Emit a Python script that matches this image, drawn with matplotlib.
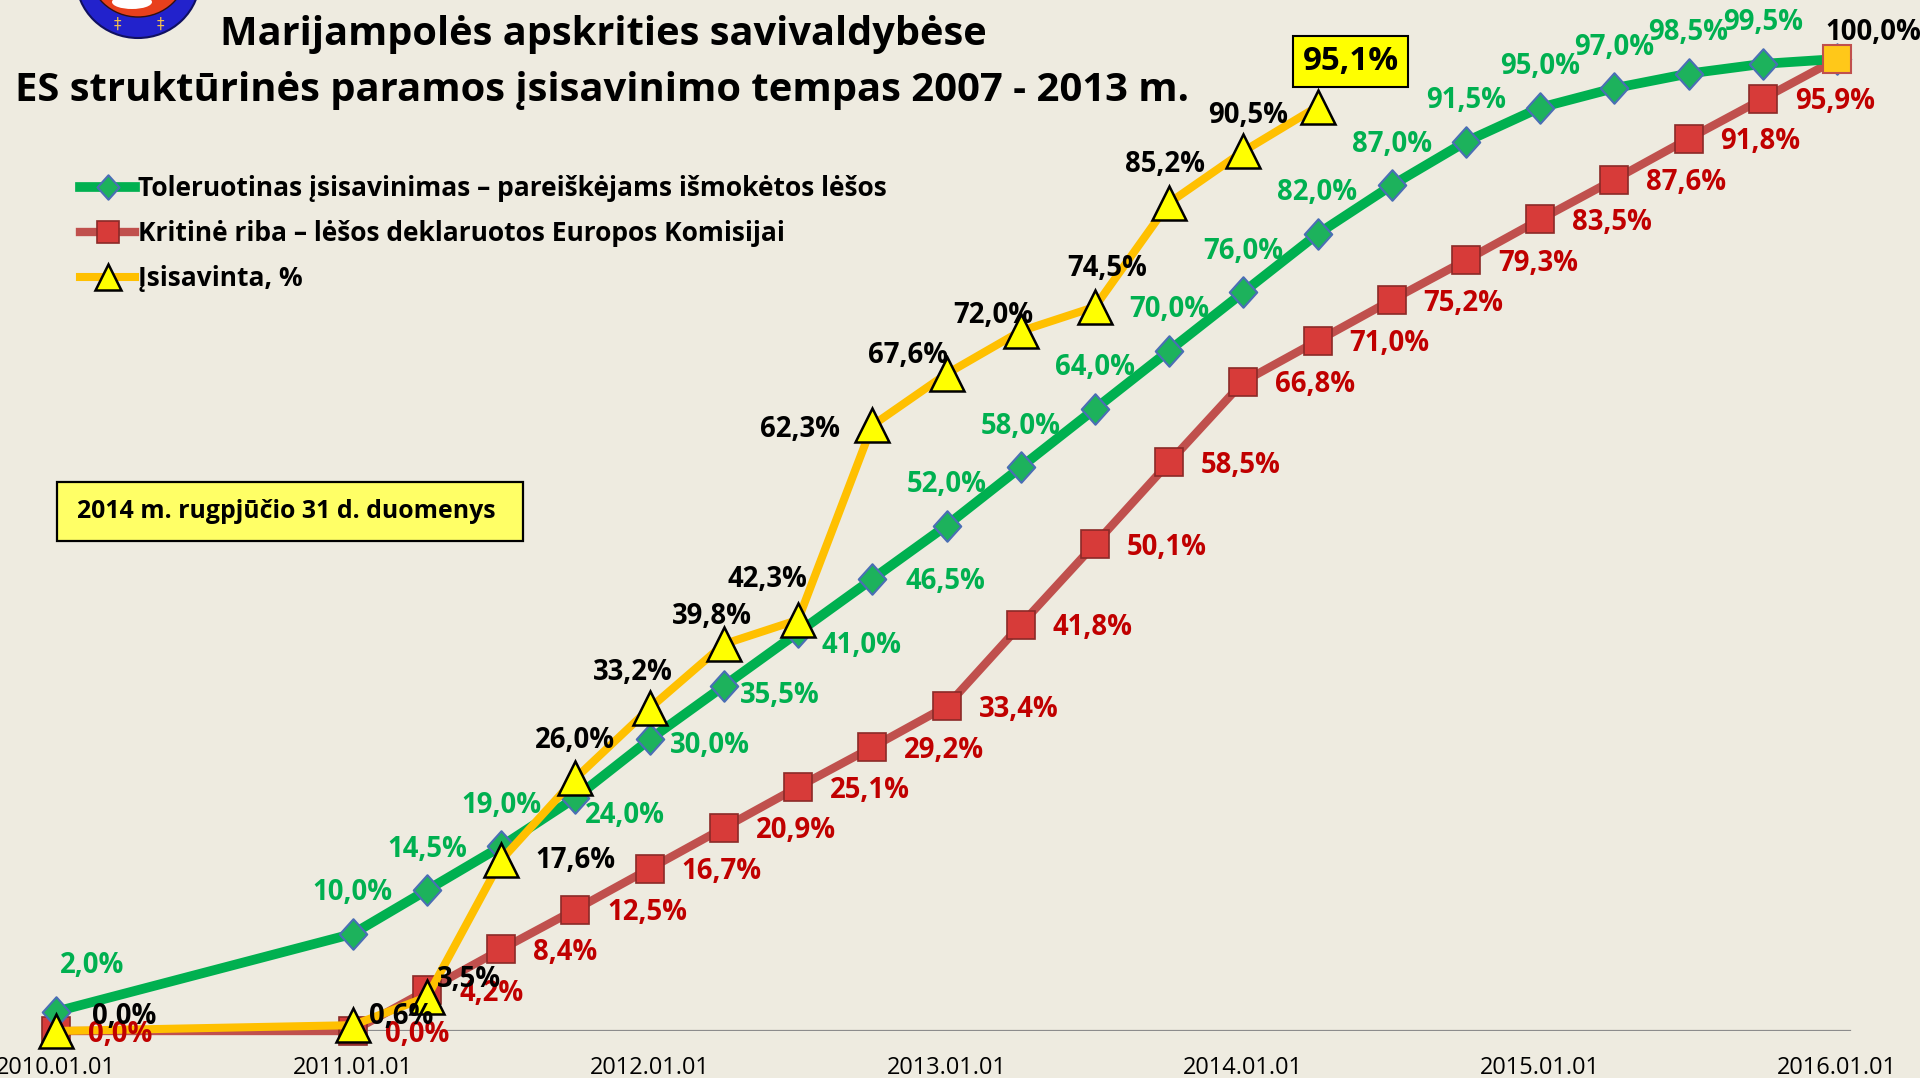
import matplotlib
matplotlib.use('Agg')
import matplotlib.pyplot as plt
from matplotlib.path import Path
from matplotlib.patches import Ellipse, Rectangle

FONT = ['Open Sans', 'DejaVu Sans']
plt.rcParams['font.family'] = FONT

# ---------------- data ----------------
green_dates = ['2010.01.01', '2011.01.01', '2011.04.01', '2011.07.01', '2011.10.01',
               '2012.01.01', '2012.04.01', '2012.07.01', '2012.10.01', '2013.01.01',
               '2013.04.01', '2013.07.01', '2013.10.01', '2014.01.01', '2014.04.01',
               '2014.07.01', '2014.10.01', '2015.01.01', '2015.04.01', '2015.07.01',
               '2015.10.01', '2016.01.01']
green_values = [2.0, 10.0, 14.5, 19.0, 24.0, 30.0, 35.5, 41.0, 46.5, 52.0, 58.0,
                64.0, 70.0, 76.0, 82.0, 87.0, 91.5, 95.0, 97.0, 98.5, 99.5, 100.0]
red_dates = list(green_dates)
red_values = [0.0, 0.0, 4.2, 8.4, 12.5, 16.7, 20.9, 25.1, 29.2, 33.4, 41.8,
              50.1, 58.5, 66.8, 71.0, 75.2, 79.3, 83.5, 87.6, 91.8, 95.9, 100.0]
yellow_dates = green_dates[:15]
yellow_values = [0.0, 0.6, 3.5, 17.6, 26.0, 33.2, 39.8, 42.3, 62.3, 67.6, 72.0,
                 74.5, 85.2, 90.5, 95.1]
tick_labels = ['2010.01.01', '2011.01.01', '2012.01.01', '2013.01.01',
               '2014.01.01', '2015.01.01', '2016.01.01']
series_names = ['Toleruotinas įsisavinimas – pareiškėjams išmokėtos lėšos',
                'Kritinė riba – lėšos deklaruotos Europos Komisijai',
                'Įsisavinta, %']
title_lines = ['Marijampolės apskrities savivaldybėse',
               'ES struktūrinės paramos įsisavinimo tempas 2007 - 2013 m.']
note_text = '2014 m. rugpjūčio 31 d. duomenys'


def to_year(s):
    y, m, d = s.split('.')
    return int(y) + (int(m) - 1) / 12.0


def fmt(v):
    return ('%.1f%%' % v).replace('.', ',')


gx = [to_year(d) for d in green_dates]
rx = [to_year(d) for d in red_dates]
yx = [to_year(d) for d in yellow_dates]

# ---------------- style ----------------
BG = '#EEEBE0'
W, H = 1920, 1078
GREEN = '#00B050'
GREEN_LBL = '#00B050'
RED_LINE = '#C0504D'
RED_LBL = '#C00000'
YEL_LINE = '#FFC000'

fig = plt.figure(figsize=(W / 100, H / 100), dpi=100, facecolor=BG)
renderer = fig.canvas.get_renderer()


def fit(text, width_px, weight='bold', base=20.0):
    t = fig.text(0, 0, text, fontsize=base, fontweight=weight)
    w = t.get_window_extent(renderer).width
    t.remove()
    return base * width_px / w


X0_PX, X6_PX = 56, 1837          # pixel x of 2010.01.01 and 2016.01.01
BASE_PX, TOP_PX = 1031, 59       # pixel y of 0 % and 100 %
PXY = (X6_PX - X0_PX) / 6.0
PPC = (BASE_PX - TOP_PX) / 100.0

ax = fig.add_axes([0, (H - BASE_PX) / H, 1, BASE_PX / H])
ax.set_facecolor(BG)
ax.patch.set_alpha(0)
ax.set_xlim(2010 - X0_PX / PXY, 2010 + (W - X0_PX) / PXY)
ax.set_ylim(0, BASE_PX / PPC)
for s in ax.spines.values():
    s.set_visible(False)
ax.set_yticks([])

fs_tick = fit('2015.01.01', 120, weight='normal')
ax.set_xticks([to_year(t) for t in tick_labels])
ax.set_xticklabels(tick_labels, fontsize=fs_tick, color='black')
ax.tick_params(axis='x', length=0, pad=18)

ax.axhline(0, xmin=49 / W, xmax=1850 / W, color='#8C8C8C', lw=1.6, zorder=1)

diamond = Path([(0, 1), (0.9, 0), (0, -1), (-0.9, 0), (0, 1)],
               [Path.MOVETO, Path.LINETO, Path.LINETO, Path.LINETO, Path.CLOSEPOLY])

lr, = ax.plot(rx, red_values, color=RED_LINE, lw=6, marker='s', ms=20.5,
              mfc='#D73B39', mec='#8B2A28', mew=1.2, zorder=3, label=series_names[1],
              clip_on=False)
# final red point shown in gold
ax.plot(rx[-1:], red_values[-1:], ls='none', marker='s', ms=20.5, mfc='#FFC819',
        mec='#C0504D', mew=1.5, zorder=6, clip_on=False)
lg, = ax.plot(gx, green_values, color=GREEN, lw=7, marker=diamond, ms=22,
              mfc='#1DB25C', mec='#4A6EB5', mew=1.5, zorder=4, label=series_names[0],
              clip_on=False)
ly, = ax.plot(yx, yellow_values, color=YEL_LINE, lw=5.8, marker='^', ms=24,
              mfc='#FFFF00', mec='black', mew=1.8, zorder=5, label=series_names[2],
              clip_on=False)

fs_lbl = fit('58,0%', 80)

# green labels (offset in pixels)
g_off = [(36, 46, 'center')] + [(0, 41, 'center')] * 3 + \
        [(9, -18, 'left'), (20, -6, 'left'), (16, -10, 'left'), (23, -13, 'left'), (33, -2, 'left')] + \
        [(0, 41, 'center')] * 12 + [(36, 26, 'center')]
for i, (x, v) in enumerate(zip(gx, green_values)):
    dx, dy, ha = g_off[i]
    col = 'black' if i == len(gx) - 1 else GREEN_LBL
    ax.annotate(fmt(v), (x, v), xytext=(dx, dy), textcoords='offset pixels',
                ha=ha, va='center', fontsize=fs_lbl, fontweight='bold', color=col, zorder=8,
                annotation_clip=False)

# red labels
for i, (x, v) in enumerate(zip(rx, red_values)):
    if i == len(rx) - 1:
        continue
    ax.annotate(fmt(v), (x, v), xytext=(32, -3), textcoords='offset pixels',
                ha='left', va='center', fontsize=fs_lbl, fontweight='bold', color=RED_LBL, zorder=7)

# yellow labels
y_off = [(36, 14, 'left'), (16, 9, 'left'), (10, 17, 'left'), (34, -1, 'left'),
         (0, 38, 'center'), (-17, 36, 'center'), (-12, 28, 'center'), (-31, 40, 'center'),
         (-32, -4, 'right'), (-38, 18, 'center'), (-27, 16, 'center'), (12, 38, 'center'),
         (-4, 38, 'center'), (5, 36, 'center')]
for i, (x, v) in enumerate(zip(yx[:-1], yellow_values[:-1])):
    dx, dy, ha = y_off[i]
    ax.annotate(fmt(v), (x, v), xytext=(dx, dy), textcoords='offset pixels',
                ha=ha, va='center', fontsize=fs_lbl, fontweight='bold', color='black', zorder=9)

fs_box = fit('95,1%', 96)
ax.annotate(fmt(yellow_values[-1]), (yx[-1], yellow_values[-1]), xytext=(33, 45),
            textcoords='offset pixels', ha='center', va='center', fontsize=fs_box,
            fontweight='bold', color='black', zorder=9,
            bbox=dict(boxstyle='square,pad=0.28', fc='#FFFF00', ec='black', lw=1.5))

# legend
fs_leg = fit(series_names[0], 751)
leg = ax.legend(handles=[lg, lr, ly], loc='upper left', bbox_to_anchor=(80 / W, 1 - 175 / H),
                bbox_transform=fig.transFigure, frameon=False,
                prop=dict(family=FONT, weight='bold', size=fs_leg),
                handlelength=2.1, handletextpad=0.1, labelspacing=0.68, borderpad=0,
                borderaxespad=0, markerscale=0.8)

# note box
fig.patches.append(Rectangle((57 / W, 1 - 541 / H), (523 - 57) / W, (541 - 482) / H,
                             transform=fig.transFigure, fc='#FFFF66', ec='black', lw=1.6, zorder=2))
fs_note = fit(note_text, 418)
fig.text(77 / W, 1 - 511 / H, note_text, fontsize=fs_note, fontweight='bold',
         ha='left', va='center', color='black')

# titles
fs_t1 = fit(title_lines[0], 766)
fs_t2 = fit(title_lines[1], 1174)
fig.text(220 / W, 1 - 34 / H, title_lines[0], fontsize=fs_t1, fontweight='bold',
         ha='left', va='center', color='black')
fig.text(15 / W, 1 - 91 / H, title_lines[1], fontsize=fs_t2, fontweight='bold',
         ha='left', va='center', color='black')

# emblem (partially visible at top-left)
fig.patches.append(Ellipse((138 / W, 1 + 22 / H), 124 / W, 120 / H, transform=fig.transFigure,
                           fc='#2222CC', ec='#101060', lw=1.5))
fig.patches.append(Ellipse((138 / W, 1 + 30 / H), 98 / W, 94 / H, transform=fig.transFigure,
                           fc='#E8401C', ec='#301010', lw=1.0))
fig.patches.append(Ellipse((132 / W, 1 - 2 / H), 40 / W, 14 / H, transform=fig.transFigure,
                           fc='white', ec='none'))
for cx in (117, 160):
    fig.text(cx / W, 1 - 24 / H, '‡', fontsize=11, color='#F2C14E', ha='center', va='center',
             family=['DejaVu Sans'])

fig.savefig('out.png', dpi=100, facecolor=BG)
